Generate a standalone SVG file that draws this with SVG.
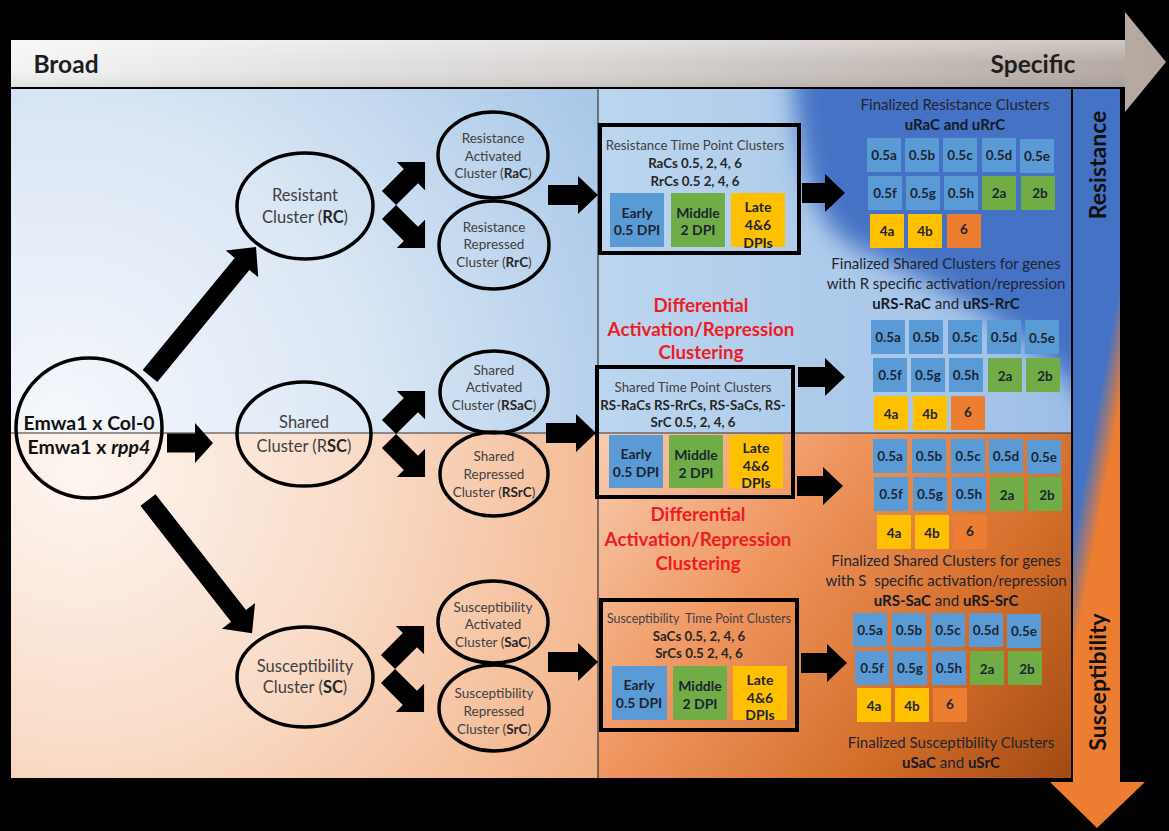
<svg xmlns="http://www.w3.org/2000/svg" width="1169" height="831" viewBox="0 0 1169 831">
<style>
text{font-family:Lato,'Liberation Sans',sans-serif;text-anchor:middle;dominant-baseline:central}
.lbl{fill:#404040}
.b{font-weight:bold;fill:#262626}
.ell{fill:none;stroke:#000;stroke-width:3.5}
.box{fill:none;stroke:#000;stroke-width:4}
.arr{fill:#000}
.tb{fill:#5b9bd5}.tg{fill:#70ad47}.ty{fill:#ffc000}.to{fill:#ed7d31}
.tt{font-weight:bold;fill:#1c2533;font-size:13.5px}
.tp{font-weight:bold;fill:#1c2533;font-size:14px}
.big{font-size:16.5px}
.sm{font-size:13.5px}
.ttl{font-size:13.3px}
.red{font-weight:bold;fill:#ee1c24;font-size:18.8px}
.fin{font-size:15px;fill:#1e2430}
.fb{font-weight:bold;fill:#141a26}
.axis{font-weight:bold;font-size:24.5px;fill:#1e1e1e}
.vert{font-weight:bold;font-size:23px;fill:#111}
.ln{stroke:#333;stroke-width:1.2;fill:none}
</style>
<defs>
<linearGradient id="gTop" x1="12" y1="0" x2="1166" y2="0" gradientUnits="userSpaceOnUse">
<stop offset="0" stop-color="#f4f4f4"/><stop offset="0.5" stop-color="#d8d5d3"/><stop offset="1" stop-color="#b3a79f"/>
</linearGradient>
<linearGradient id="gTopV" x1="0" y1="40" x2="0" y2="87" gradientUnits="userSpaceOnUse">
<stop offset="0" stop-color="#fff" stop-opacity="0.35"/><stop offset="0.5" stop-color="#fff" stop-opacity="0"/><stop offset="1" stop-color="#000" stop-opacity="0.08"/>
</linearGradient>
<radialGradient id="gTL" cx="60" cy="430" r="620" gradientUnits="userSpaceOnUse">
<stop offset="0" stop-color="#f6f8fc"/><stop offset="0.5" stop-color="#dbe7f5"/><stop offset="1" stop-color="#a9c8e8"/>
</radialGradient>
<radialGradient id="gBL" cx="80" cy="470" r="620" gradientUnits="userSpaceOnUse">
<stop offset="0" stop-color="#fdf6f1"/><stop offset="0.45" stop-color="#f9dcc8"/><stop offset="1" stop-color="#f2ad80"/>
</radialGradient>
<linearGradient id="gTR" x1="598" y1="0" x2="1072" y2="0" gradientUnits="userSpaceOnUse">
<stop offset="0" stop-color="#bcd6ef"/><stop offset="1" stop-color="#9ebfe6"/>
</linearGradient>
<linearGradient id="gBR" x1="600" y1="433" x2="1072" y2="778" gradientUnits="userSpaceOnUse">
<stop offset="0" stop-color="#f8cdb0"/><stop offset="0.35" stop-color="#ef9660"/><stop offset="0.7" stop-color="#d46e2a"/><stop offset="1" stop-color="#a24a12"/>
</linearGradient>
<linearGradient id="gVB" x1="1086" y1="467" x2="1108" y2="471" gradientUnits="userSpaceOnUse">
<stop offset="0" stop-color="#4472c4"/><stop offset="1" stop-color="#ed7d31"/>
</linearGradient>
<filter id="blur" x="-20%" y="-20%" width="140%" height="140%"><feGaussianBlur stdDeviation="12"/></filter>
<clipPath id="cTR"><rect x="598" y="89" width="474" height="344"/></clipPath>
</defs>

<rect x="0" y="0" width="1169" height="831" fill="#000"/>

<g id="top-arrow">
<path d="M11,40 H1125 V12 L1166,62 L1125,112 V87 H11 Z" fill="url(#gTop)"/>
<path d="M11,40 H1125 V87 H11 Z" fill="url(#gTopV)"/>
<text class="axis" x="66" y="63">Broad</text>
<text class="axis" x="1033" y="63">Specific</text>
</g>

<g id="background">
<rect x="11" y="89" width="587" height="344" fill="url(#gTL)"/>
<rect x="11" y="433" width="587" height="345" fill="url(#gBL)"/>
<rect x="598" y="89" width="474" height="344" fill="url(#gTR)"/>
<g clip-path="url(#cTR)">
<path d="M792,60 C800,180 815,230 865,252 C950,290 1030,330 1090,405 L1120,405 L1120,60 Z" fill="#4472c4" filter="url(#blur)"/>
</g>
<rect x="598" y="433" width="474" height="345" fill="url(#gBR)"/>
<line class="ln" x1="11" y1="433" x2="1072" y2="433"/>
<line class="ln" x1="598" y1="89" x2="598" y2="778"/>
</g>

<g id="side-arrow">
<path d="M1073,89 H1120 V782 H1145 L1097,828 L1050,782 H1073 Z" fill="url(#gVB)"/>
<line x1="1072" y1="89" x2="1072" y2="778" stroke="#000" stroke-width="2"/>
<text class="vert" transform="translate(1097 165) rotate(-90)">Resistance</text>
<text class="vert" transform="translate(1097 682) rotate(-90)">Susceptibility</text>
</g>

<g id="connectors">
<path class="arr" transform="translate(150 376) rotate(-50.6)" d="M0,-9.5 L145,-9.5 L145,-21 L167,0 L145,21 L145,9.5 L0,9.5 Z"/>
<path class="arr" transform="translate(148 500) rotate(52)" d="M0,-9.5 L147,-9.5 L147,-21 L169,0 L147,21 L147,9.5 L0,9.5 Z"/>
<path class="arr" d="M167,433.5 L195,433.5 L195,423 L213,443 L195,463 L195,452.5 L167,452.5 Z"/>
<path class="arr" transform="translate(389 198) rotate(-45)" d="M0,-10 L31,-10 L31,-20 L51,0 L31,20 L31,10 L0,10 Z"/>
<path class="arr" transform="translate(389 212) rotate(45)" d="M0,-10 L31,-10 L31,-20 L51,0 L31,20 L31,10 L0,10 Z"/>
<path class="arr" transform="translate(389 427) rotate(-45)" d="M0,-10 L31,-10 L31,-20 L51,0 L31,20 L31,10 L0,10 Z"/>
<path class="arr" transform="translate(389 441) rotate(45)" d="M0,-10 L31,-10 L31,-20 L51,0 L31,20 L31,10 L0,10 Z"/>
<path class="arr" transform="translate(388 662) rotate(-45)" d="M0,-10 L31,-10 L31,-20 L51,0 L31,20 L31,10 L0,10 Z"/>
<path class="arr" transform="translate(388 676) rotate(45)" d="M0,-10 L31,-10 L31,-20 L51,0 L31,20 L31,10 L0,10 Z"/>
<path class="arr" transform="translate(548 195)" d="M0,-10 L30,-10 L30,-19 L50,0 L30,19 L30,10 L0,10 Z"/>
<path class="arr" transform="translate(546 433)" d="M0,-10 L30,-10 L30,-19 L50,0 L30,19 L30,10 L0,10 Z"/>
<path class="arr" transform="translate(548 662)" d="M0,-10 L30,-10 L30,-19 L50,0 L30,19 L30,10 L0,10 Z"/>
<path class="arr" transform="translate(802 193)" d="M0,-10 L23,-10 L23,-19 L43,0 L23,19 L23,10 L0,10 Z"/>
<path class="arr" transform="translate(798 377)" d="M0,-10 L27,-10 L27,-19 L47,0 L27,19 L27,10 L0,10 Z"/>
<path class="arr" transform="translate(797 486)" d="M0,-10 L26,-10 L26,-19 L46,0 L26,19 L26,10 L0,10 Z"/>
<path class="arr" transform="translate(801 663)" d="M0,-10 L26,-10 L26,-19 L46,0 L26,19 L26,10 L0,10 Z"/>
</g>

<g id="node-start">
<ellipse class="ell" cx="89" cy="428" rx="73" ry="70"/>
<text x="89" y="422" font-size="19.5" font-weight="bold" fill="#111">Emwa1 x Col-0</text>
<text x="89" y="446" font-size="19.5" font-weight="bold" fill="#111">Emwa1 x <tspan font-style="italic">rpp4</tspan></text>
</g>

<g id="node-RC">
<ellipse class="ell" cx="305" cy="206" rx="68" ry="53"/>
<text class="lbl big" x="305" y="195">Resistant</text>
<text class="lbl big" x="305" y="217">Cluster (<tspan class="b">RC</tspan>)</text>
</g>
<g id="node-RSC">
<ellipse class="ell" cx="304" cy="434" rx="67" ry="52"/>
<text class="lbl big" x="304" y="422">Shared</text>
<text class="lbl big" x="304" y="446">Cluster (R<tspan class="b">SC</tspan>)</text>
</g>
<g id="node-SC">
<ellipse class="ell" cx="305" cy="677" rx="68" ry="50"/>
<text class="lbl big" x="305" y="666">Susceptibility</text>
<text class="lbl big" x="305" y="687">Cluster (<tspan class="b">SC</tspan>)</text>
</g>

<g id="node-RaC">
<ellipse class="ell" cx="493" cy="155" rx="55" ry="43"/>
<text class="lbl sm" x="493" y="138">Resistance</text>
<text class="lbl sm" x="493" y="156">Activated</text>
<text class="lbl sm" x="493" y="173">Cluster (<tspan class="b">RaC</tspan>)</text>
</g>
<g id="node-RrC">
<ellipse class="ell" cx="494" cy="245" rx="55" ry="44"/>
<text class="lbl sm" x="494" y="227">Resistance</text>
<text class="lbl sm" x="494" y="244">Repressed</text>
<text class="lbl sm" x="494" y="262">Cluster (<tspan class="b">RrC</tspan>)</text>
</g>
<g id="node-RSaC">
<ellipse class="ell" cx="494" cy="392" rx="54" ry="41"/>
<text class="lbl sm" x="494" y="370">Shared</text>
<text class="lbl sm" x="494" y="387">Activated</text>
<text class="lbl sm" x="494" y="405">Cluster (<tspan class="b">RSaC</tspan>)</text>
</g>
<g id="node-RSrC">
<ellipse class="ell" cx="494" cy="474" rx="54" ry="42"/>
<text class="lbl sm" x="494" y="456">Shared</text>
<text class="lbl sm" x="494" y="474">Repressed</text>
<text class="lbl sm" x="494" y="492">Cluster (<tspan class="b">RSrC</tspan>)</text>
</g>
<g id="node-SaC">
<ellipse class="ell" cx="493" cy="622" rx="55" ry="41"/>
<text class="lbl sm" x="493" y="607">Susceptibility</text>
<text class="lbl sm" x="493" y="624">Activated</text>
<text class="lbl sm" x="493" y="642">Cluster (<tspan class="b">SaC</tspan>)</text>
</g>
<g id="node-SrC">
<ellipse class="ell" cx="494" cy="708" rx="55" ry="43"/>
<text class="lbl sm" x="494" y="693">Susceptibility</text>
<text class="lbl sm" x="494" y="711">Repressed</text>
<text class="lbl sm" x="494" y="729">Cluster (<tspan class="b">SrC</tspan>)</text>
</g>

<g id="box-R">
<rect class="box" x="600" y="125" width="199" height="128"/>
<text class="lbl ttl" x="695" y="145">Resistance Time Point Clusters</text>
<text class="b ttl" x="695" y="163">RaCs 0.5, 2, 4, 6</text>
<text class="b ttl" x="695" y="181">RrCs 0.5 2, 4, 6</text>
<rect class="tb" x="610" y="193" width="54" height="54"/>
<rect class="tg" x="671" y="193" width="54" height="54"/>
<rect class="ty" x="731" y="193" width="54" height="54"/>
<text class="tp" x="637" y="212">Early</text><text class="tp" x="637" y="229">0.5 DPI</text>
<text class="tp" x="698" y="212">Middle</text><text class="tp" x="698" y="229">2 DPI</text>
<text class="tp" x="758" y="206">Late</text><text class="tp" x="758" y="224">4&amp;6</text><text class="tp" x="758" y="242">DPIs</text>
</g>

<g id="box-RS">
<rect class="box" x="597" y="367" width="196" height="130"/>
<text class="lbl ttl" x="693" y="387">Shared Time Point Clusters</text>
<text class="b ttl" x="693" y="405">RS-RaCs RS-RrCs, RS-SaCs, RS-</text>
<text class="b ttl" x="693" y="422">SrC 0.5, 2, 4, 6</text>
<rect class="tb" x="609" y="435" width="54" height="53"/>
<rect class="tg" x="669" y="435" width="54" height="53"/>
<rect class="ty" x="729" y="435" width="54" height="53"/>
<text class="tp" x="636" y="453">Early</text><text class="tp" x="636" y="471">0.5 DPI</text>
<text class="tp" x="696" y="454">Middle</text><text class="tp" x="696" y="472">2 DPI</text>
<text class="tp" x="756" y="447">Late</text><text class="tp" x="756" y="465">4&amp;6</text><text class="tp" x="756" y="482">DPIs</text>
</g>

<g id="box-S">
<rect class="box" x="601" y="600" width="196" height="130"/>
<text class="lbl ttl" x="699" y="618" xml:space="preserve" textLength="184" lengthAdjust="spacingAndGlyphs">Susceptibility  Time Point Clusters</text>
<text class="b ttl" x="699" y="636">SaCs 0.5, 2, 4, 6</text>
<text class="b ttl" x="699" y="653">SrCs 0.5 2, 4, 6</text>
<rect class="tb" x="612" y="666" width="55" height="54"/>
<rect class="tg" x="673" y="666" width="54" height="54"/>
<rect class="ty" x="733" y="666" width="54" height="54"/>
<text class="tp" x="639" y="684">Early</text><text class="tp" x="639" y="702">0.5 DPI</text>
<text class="tp" x="700" y="685">Middle</text><text class="tp" x="700" y="703">2 DPI</text>
<text class="tp" x="760" y="679">Late</text><text class="tp" x="760" y="697">4&amp;6</text><text class="tp" x="760" y="714">DPIs</text>
</g>

<g id="label-diff-upper">
<text class="red" x="701" y="304">Differential</text>
<text class="red" x="701" y="328">Activation/Repression</text>
<text class="red" x="701" y="351">Clustering</text>
</g>
<g id="label-diff-lower">
<text class="red" x="698" y="513">Differential</text>
<text class="red" x="698" y="538">Activation/Repression</text>
<text class="red" x="698" y="562">Clustering</text>
</g>

<g id="grid-uR">
<text class="fin" x="955" y="104">Finalized Resistance Clusters</text>
<text class="fin fb" x="955" y="124">uRaC and uRrC</text>
<rect class="tb" x="867" y="138" width="34" height="34"/><text class="tt" x="884" y="155">0.5a</text>
<rect class="tb" x="905" y="138" width="34" height="34"/><text class="tt" x="922" y="155">0.5b</text>
<rect class="tb" x="943" y="138" width="34" height="34"/><text class="tt" x="960" y="155">0.5c</text>
<rect class="tb" x="982" y="138" width="34" height="34"/><text class="tt" x="999" y="155">0.5d</text>
<rect class="tb" x="1020" y="139" width="34" height="34"/><text class="tt" x="1037" y="156">0.5e</text>
<rect class="tb" x="868" y="176" width="34" height="34"/><text class="tt" x="885" y="193">0.5f</text>
<rect class="tb" x="906" y="176" width="34" height="34"/><text class="tt" x="923" y="193">0.5g</text>
<rect class="tb" x="944" y="176" width="34" height="34"/><text class="tt" x="961" y="193">0.5h</text>
<rect class="tg" x="982" y="176" width="34" height="34"/><text class="tt" x="999" y="193">2a</text>
<rect class="tg" x="1021" y="176" width="34" height="34"/><text class="tt" x="1040" y="193">2b</text>
<rect class="ty" x="870" y="214" width="34" height="34"/><text class="tt" x="887" y="231">4a</text>
<rect class="ty" x="908" y="214" width="34" height="34"/><text class="tt" x="925" y="231">4b</text>
<rect class="to" x="947" y="214" width="34" height="34"/><text class="tt" x="964" y="229">6</text>
</g>

<g id="grid-uRS-R">
<text class="fin" x="946" y="263">Finalized Shared Clusters for genes</text>
<text class="fin" x="946" y="283">with R specific activation/repression</text>
<text class="fin" x="946" y="303"><tspan class="fb">uRS-RaC</tspan> and <tspan class="fb">uRS-RrC</tspan></text>
<rect class="tb" x="871" y="320" width="34" height="34"/><text class="tt" x="888" y="337">0.5a</text>
<rect class="tb" x="909" y="320" width="34" height="34"/><text class="tt" x="926" y="337">0.5b</text>
<rect class="tb" x="948" y="320" width="34" height="34"/><text class="tt" x="965" y="337">0.5c</text>
<rect class="tb" x="987" y="320" width="34" height="34"/><text class="tt" x="1004" y="337">0.5d</text>
<rect class="tb" x="1025" y="320" width="34" height="34"/><text class="tt" x="1042" y="338">0.5e</text>
<rect class="tb" x="873" y="358" width="34" height="34"/><text class="tt" x="890" y="375">0.5f</text>
<rect class="tb" x="911" y="358" width="34" height="34"/><text class="tt" x="928" y="375">0.5g</text>
<rect class="tb" x="949" y="358" width="34" height="34"/><text class="tt" x="966" y="375">0.5h</text>
<rect class="tg" x="988" y="358" width="34" height="34"/><text class="tt" x="1005" y="376">2a</text>
<rect class="tg" x="1026" y="358" width="34" height="34"/><text class="tt" x="1045" y="376">2b</text>
<rect class="ty" x="874" y="396" width="34" height="34"/><text class="tt" x="891" y="414">4a</text>
<rect class="ty" x="913" y="396" width="34" height="34"/><text class="tt" x="930" y="414">4b</text>
<rect class="to" x="951" y="396" width="34" height="34"/><text class="tt" x="968" y="412">6</text>
</g>

<g id="grid-uRS-S">
<rect class="tb" x="873" y="439" width="34" height="34"/><text class="tt" x="890" y="456">0.5a</text>
<rect class="tb" x="912" y="439" width="34" height="34"/><text class="tt" x="929" y="456">0.5b</text>
<rect class="tb" x="951" y="439" width="34" height="34"/><text class="tt" x="968" y="456">0.5c</text>
<rect class="tb" x="989" y="439" width="34" height="34"/><text class="tt" x="1006" y="456">0.5d</text>
<rect class="tb" x="1027" y="440" width="34" height="34"/><text class="tt" x="1044" y="457">0.5e</text>
<rect class="tb" x="874" y="477" width="34" height="34"/><text class="tt" x="891" y="494">0.5f</text>
<rect class="tb" x="913" y="477" width="34" height="34"/><text class="tt" x="930" y="494">0.5g</text>
<rect class="tb" x="952" y="477" width="34" height="34"/><text class="tt" x="969" y="494">0.5h</text>
<rect class="tg" x="990" y="477" width="34" height="34"/><text class="tt" x="1007" y="495">2a</text>
<rect class="tg" x="1028" y="477" width="34" height="34"/><text class="tt" x="1047" y="495">2b</text>
<rect class="ty" x="877" y="515" width="34" height="34"/><text class="tt" x="894" y="533">4a</text>
<rect class="ty" x="915" y="515" width="34" height="34"/><text class="tt" x="932" y="533">4b</text>
<rect class="to" x="953" y="515" width="34" height="34"/><text class="tt" x="970" y="531">6</text>
<text class="fin" x="946" y="560">Finalized Shared Clusters for genes</text>
<text class="fin" x="946" y="580" xml:space="preserve">with S  specific activation/repression</text>
<text class="fin" x="946" y="600"><tspan class="fb">uRS-SaC</tspan> and <tspan class="fb">uRS-SrC</tspan></text>
</g>

<g id="grid-uS">
<rect class="tb" x="853" y="613" width="34" height="34"/><text class="tt" x="870" y="630">0.5a</text>
<rect class="tb" x="892" y="613" width="34" height="34"/><text class="tt" x="909" y="630">0.5b</text>
<rect class="tb" x="931" y="613" width="34" height="34"/><text class="tt" x="948" y="630">0.5c</text>
<rect class="tb" x="969" y="613" width="34" height="34"/><text class="tt" x="986" y="630">0.5d</text>
<rect class="tb" x="1007" y="614" width="34" height="34"/><text class="tt" x="1024" y="631">0.5e</text>
<rect class="tb" x="855" y="651" width="34" height="34"/><text class="tt" x="872" y="668">0.5f</text>
<rect class="tb" x="893" y="651" width="34" height="34"/><text class="tt" x="910" y="668">0.5g</text>
<rect class="tb" x="932" y="651" width="34" height="34"/><text class="tt" x="949" y="668">0.5h</text>
<rect class="tg" x="970" y="651" width="34" height="34"/><text class="tt" x="987" y="669">2a</text>
<rect class="tg" x="1008" y="651" width="34" height="34"/><text class="tt" x="1027" y="669">2b</text>
<rect class="ty" x="857" y="688" width="34" height="34"/><text class="tt" x="874" y="706">4a</text>
<rect class="ty" x="895" y="688" width="34" height="34"/><text class="tt" x="912" y="706">4b</text>
<rect class="to" x="933" y="688" width="34" height="34"/><text class="tt" x="950" y="704">6</text>
<text class="fin" x="951" y="742">Finalized Susceptibility Clusters</text>
<text class="fin" x="951" y="762"><tspan class="fb">uSaC</tspan> and <tspan class="fb">uSrC</tspan></text>
</g>
</svg>
